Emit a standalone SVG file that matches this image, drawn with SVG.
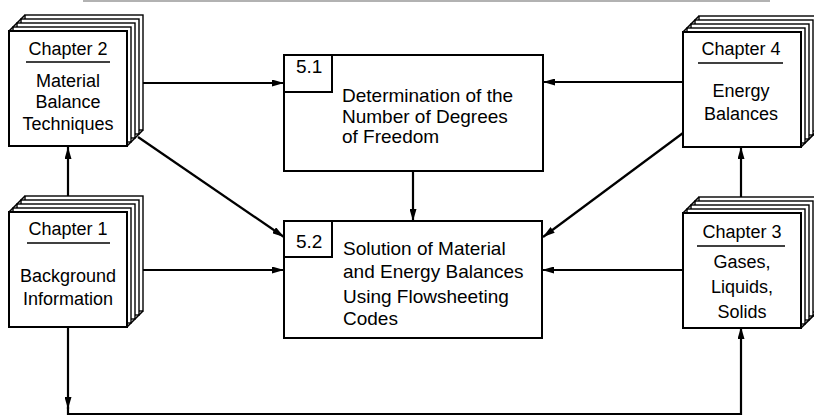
<svg xmlns="http://www.w3.org/2000/svg" xmlns:xlink="http://www.w3.org/1999/xlink" width="814" height="416" viewBox="0 0 814 416">
<style>
text{font-family:"Liberation Sans",Arial,sans-serif;fill:#000}
.ch{font-size:18px;text-anchor:middle}
.bx{font-size:19px}
.pg{fill:#fff;stroke:#000;stroke-width:1.4}
.fr{fill:#fff;stroke:#000;stroke-width:2}
.ul{stroke:#000;stroke-width:1.6}
.box{fill:#fff;stroke:#000;stroke-width:2}
.cn{fill:none;stroke:#000;stroke-width:2.2}
</style>
<defs>
<marker id="ah" markerUnits="userSpaceOnUse" markerWidth="12" markerHeight="7" refX="12" refY="3.5" orient="auto">
<path d="M0,0 L12,3.5 L0,7 z" fill="#000"/>
</marker>
<g id="stack">
<rect x="16" y="-16" width="118" height="115" class="pg"/>
<rect x="12" y="-12" width="118" height="115" class="pg"/>
<rect x="8" y="-8" width="118" height="115" class="pg"/>
<rect x="4" y="-4" width="118" height="115" class="pg"/>
<path d="M0,0 L16,-16 M118,115 L134,99" fill="none" stroke="#000" stroke-width="1.6"/>
<rect x="0" y="0" width="118" height="115" class="fr"/>
</g>
</defs>
<line x1="83" y1="1" x2="770" y2="1" stroke="#999" stroke-width="1.5"/>
<g id="connectors">
<path class="cn" d="M143,83 L284,83" marker-end="url(#ah)"/>
<path class="cn" d="M138,137 L284,237" marker-end="url(#ah)"/>
<path class="cn" d="M68,196 L68,147" marker-end="url(#ah)"/>
<path class="cn" d="M143,270 L284,270" marker-end="url(#ah)"/>
<path class="cn" d="M413,171 L413,221" marker-end="url(#ah)"/>
<path class="cn" d="M683,82 L543,82" marker-end="url(#ah)"/>
<path class="cn" d="M683,133 L543,237" marker-end="url(#ah)"/>
<path class="cn" d="M683,270 L542,270" marker-end="url(#ah)"/>
<path class="cn" d="M741,197 L741,147" marker-end="url(#ah)"/>
<path class="cn" d="M68,327 L68,409" marker-end="url(#ah)"/>
<path class="cn" d="M68,407 L68,414 L741,414 L741,327" stroke-width="1.8" marker-end="url(#ah)"/>
</g>
<g id="ch2">
<use xlink:href="#stack" transform="translate(9,31)"/>
<text class="ch" x="68" y="55">Chapter 2</text>
<line class="ul" x1="26" y1="62" x2="110" y2="62"/>
<text class="ch" x="68" y="87">Material</text>
<text class="ch" x="68" y="108">Balance</text>
<text class="ch" x="68" y="130">Techniques</text>
</g>
<g id="ch1">
<use xlink:href="#stack" transform="translate(9,212)"/>
<text class="ch" x="68" y="235">Chapter 1</text>
<line class="ul" x1="27" y1="243" x2="110" y2="243"/>
<text class="ch" x="68" y="282">Background</text>
<text class="ch" x="68" y="305">Information</text>
</g>
<g id="ch4">
<use xlink:href="#stack" transform="translate(683,32)"/>
<text class="ch" x="741" y="55">Chapter 4</text>
<line class="ul" x1="698" y1="63" x2="783" y2="63"/>
<text class="ch" x="741" y="97">Energy</text>
<text class="ch" x="741" y="120">Balances</text>
</g>
<g id="ch3">
<use xlink:href="#stack" transform="translate(683,213)"/>
<text class="ch" x="742" y="238">Chapter 3</text>
<line class="ul" x1="697" y1="246" x2="785" y2="246"/>
<text class="ch" x="742" y="268">Gases,</text>
<text class="ch" x="742" y="293">Liquids,</text>
<text class="ch" x="742" y="318">Solids</text>
</g>
<g id="s51">
<rect class="box" x="284" y="55" width="259" height="116"/>
<rect class="box" x="284" y="55" width="48" height="37"/>
<text class="bx" x="296" y="73">5.1</text>
<text class="bx" x="342" y="102">Determination of the</text>
<text class="bx" x="342" y="123">Number of Degrees</text>
<text class="bx" x="342" y="143">of Freedom</text>
</g>
<g id="s52">
<rect class="box" x="284" y="221" width="258" height="117"/>
<rect class="box" x="284" y="221" width="48" height="36"/>
<text class="bx" x="296" y="248">5.2</text>
<text class="bx" x="343" y="255">Solution of Material</text>
<text class="bx" x="343" y="278">and Energy Balances</text>
<text class="bx" x="343" y="303">Using Flowsheeting</text>
<text class="bx" x="343" y="325">Codes</text>
</g>
</svg>
